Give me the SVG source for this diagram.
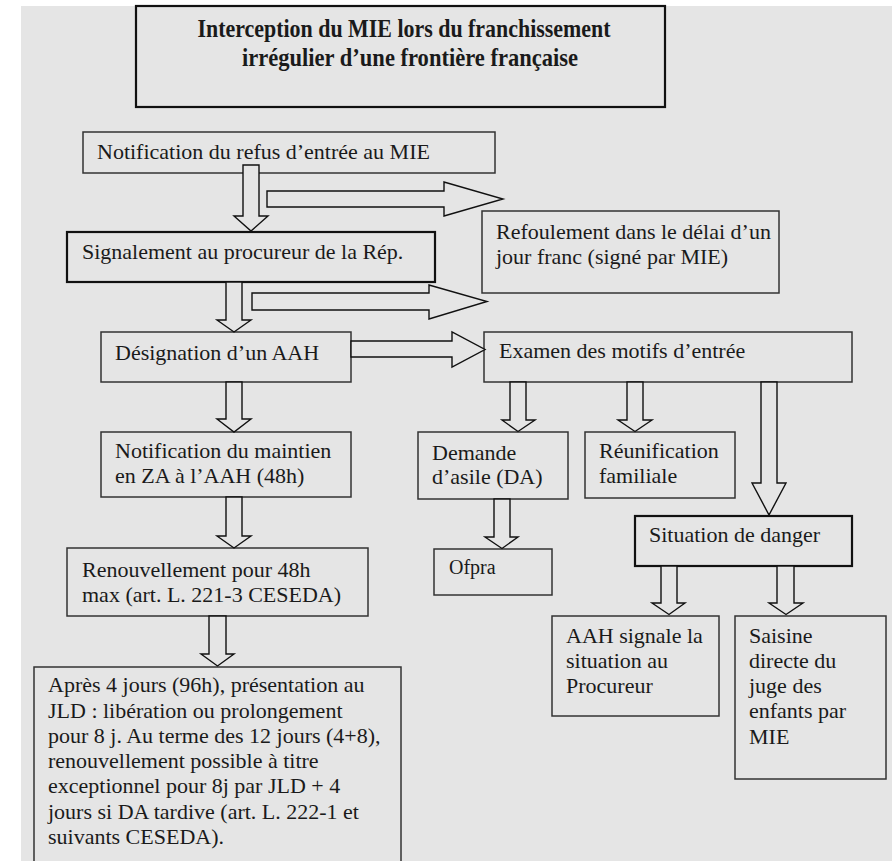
<svg xmlns="http://www.w3.org/2000/svg" width="892" height="861" viewBox="0 0 892 861">
<style>
.bg{fill:#e5e5e5}
.box{fill:#e5e5e5;stroke:#333;stroke-width:1.5}
.thick{stroke:#111;stroke-width:2.2}
.arr{fill:#e5e5e5;stroke:#111;stroke-width:1.4;stroke-linejoin:miter}
text{font-family:"Liberation Serif","Times New Roman",serif;font-size:22px;fill:#1a1a1a}
.title{font-weight:bold;font-size:25px}
</style>
<rect x="0" y="0" width="892" height="861" fill="#fff"/>
<rect class="bg" x="21" y="6" width="871" height="855"/>
<g id="title">
<rect class="box thick" x="136" y="6" width="529" height="101"/>
<text class="title" x="404" y="37" text-anchor="middle" textLength="413" lengthAdjust="spacingAndGlyphs">Interception du MIE lors du franchissement</text>
<text class="title" x="410" y="66" text-anchor="middle" textLength="336" lengthAdjust="spacingAndGlyphs">irrégulier d’une frontière française</text>
</g>
<g id="n-notif-refus">
<rect class="box" x="83" y="132" width="412" height="41"/>
<text x="97" y="159">Notification du refus d’entrée au MIE</text>
</g>
<g id="n-refoulement">
<rect class="box" x="482" y="211" width="297" height="82"/>
<text x="496" y="239">Refoulement dans le délai d’un</text>
<text x="496" y="264">jour franc (signé par MIE)</text>
</g>
<g id="n-signalement">
<rect class="box thick" x="67" y="232" width="368" height="50"/>
<text x="82" y="259">Signalement au procureur de la Rép.</text>
</g>
<g id="n-designation">
<rect class="box" x="101" y="332" width="250" height="50"/>
<text x="115" y="360">Désignation d’un AAH</text>
</g>
<g id="n-examen">
<rect class="box" x="484" y="332" width="368" height="50"/>
<text x="499" y="358">Examen des motifs d’entrée</text>
</g>
<g id="n-maintien">
<rect class="box" x="101" y="432" width="250" height="65"/>
<text x="115" y="458">Notification du maintien</text>
<text x="115" y="483">en ZA à l’AAH (48h)</text>
</g>
<g id="n-demande">
<rect class="box" x="418" y="432" width="150" height="67"/>
<text x="432" y="460">Demande</text>
<text x="432" y="484">d’asile (DA)</text>
</g>
<g id="n-reunification">
<rect class="box" x="585" y="432" width="150" height="66"/>
<text x="599" y="458">Réunification</text>
<text x="599" y="483">familiale</text>
</g>
<g id="n-ofpra">
<rect class="box" x="434" y="549" width="118" height="46"/>
<text x="449" y="574" style="font-size:20px">Ofpra</text>
</g>
<g id="n-danger">
<rect class="box thick" x="635" y="516" width="217" height="50"/>
<text x="649" y="542">Situation de danger</text>
</g>
<g id="n-renouvellement">
<rect class="box" x="67" y="548" width="301" height="68"/>
<text x="82" y="577">Renouvellement pour 48h</text>
<text x="82" y="602">max (art. L. 221-3 CESEDA)</text>
</g>
<g id="n-aah-signale">
<rect class="box" x="552" y="616" width="167" height="100"/>
<text x="566" y="643">AAH signale la</text>
<text x="566" y="668">situation au</text>
<text x="566" y="693">Procureur</text>
</g>
<g id="n-saisine">
<rect class="box" x="735" y="616" width="151" height="163"/>
<text x="749" y="643">Saisine</text>
<text x="749" y="668">directe du</text>
<text x="749" y="693">juge des</text>
<text x="749" y="718">enfants par</text>
<text x="749" y="744">MIE</text>
</g>
<g id="n-jld">
<rect class="box" x="34" y="667" width="367" height="200"/>
<text x="48" y="692">Après 4 jours (96h), présentation au</text>
<text x="48" y="718">JLD : libération ou prolongement</text>
<text x="48" y="743">pour 8 j. Au terme des 12 jours (4+8),</text>
<text x="48" y="768">renouvellement possible à titre</text>
<text x="48" y="793">exceptionnel pour 8j par JLD + 4</text>
<text x="48" y="819">jours si DA tardive (art. L. 222-1 et</text>
<text x="48" y="844">suivants CESEDA).</text>
</g>
<g id="connectors">
<polygon class="arr" points="243,165 259,165 259,216 268,216 251,231 234,216 243,216"/>
<polygon class="arr" points="267,191 444,191 444,182 503,199 444,216 444,207 267,207"/>
<polygon class="arr" points="226,282 242,282 242,320 251,320 234,332 217,320 226,320"/>
<polygon class="arr" points="252,293 429,293 429,285 487,301.5 429,319 429,310 252,310"/>
<polygon class="arr" points="351,341 452,341 452,332 485,349.5 452,367 452,357 351,357"/>
<polygon class="arr" points="226,382 242,382 242,419 251,419 234,432 217,419 226,419"/>
<polygon class="arr" points="226,497 242,497 242,536 251,536 234,548 217,536 226,536"/>
<polygon class="arr" points="209,616 226,616 226,654 234,654 217.5,666 201,654 209,654"/>
<polygon class="arr" points="510,382 526,382 526,420 535,420 518,431.5 502,420 510,420"/>
<polygon class="arr" points="627,382 643,382 643,420 652,420 635,431.5 618,420 627,420"/>
<polygon class="arr" points="761,382 777,382 777,483 786,483 769,515 752,483 761,483"/>
<polygon class="arr" points="494,499 510,499 510,537 518,537 502,548.5 485,537 494,537"/>
<polygon class="arr" points="661,566 677,566 677,603 685,603 669,614.5 652,603 661,603"/>
<polygon class="arr" points="777,566 794,566 794,603 803,603 786,614.5 769,603 777,603"/>
</g>
</svg>
